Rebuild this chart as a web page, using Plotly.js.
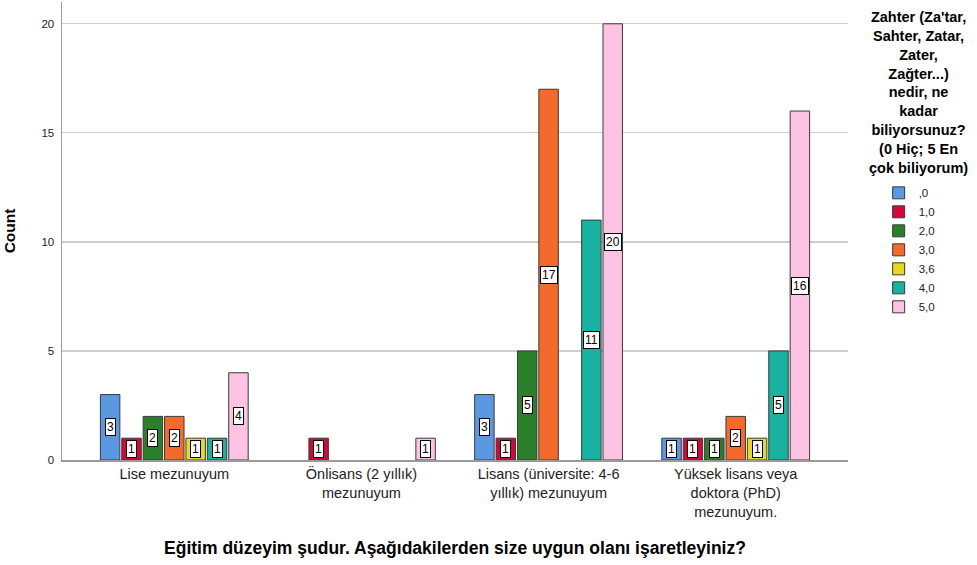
<!DOCTYPE html>
<html><head><meta charset="utf-8">
<script src="https://cdn.plot.ly/plotly-3.0.1.min.js"></script>
<style>body{margin:0;background:#fff}#c{width:977px;height:565px}</style>
</head><body><div id="c"></div>
<script>
const categories = ["Lise mezunuyum", "Önlisans (2 yıllık)<br>mezunuyum", "Lisans (üniversite: 4-6<br>yıllık) mezunuyum", "Yüksek lisans veya<br>doktora (PhD)<br>mezunuyum."];
const seriesNames = [",0", "1,0", "2,0", "3,0", "3,6", "4,0", "5,0"];
const v0  = [3, null, 3, 1];
const v1  = [1, 1, 1, 1];
const v2  = [2, null, 5, 1];
const v3  = [2, null, 17, 2];
const v36 = [1, null, null, 1];
const v4  = [1, null, 11, 5];
const v5  = [4, 1, 20, 16];
const seriesValues = [v0, v1, v2, v3, v36, v4, v5];
const colors = ["#5B98E2", "#D8053C", "#2A7F2A", "#F46A2A", "#E6D91E", "#17B3A0", "#FEC3E2"];

const n = seriesNames.length;
const slot = 0.8 / n;
const bw = 0.104;
const traces = [];
const annotations = [];
const xidx = categories.map((c, i) => i);
seriesNames.forEach((name, s) => {
  const off = -0.4 + s * slot + (slot - bw) / 2;
  traces.push({
    type: 'bar', name: name, x: xidx, y: seriesValues[s],
    width: bw, offset: off,
    marker: {color: colors[s], line: {color: '#3a3a3a', width: 1}},
    hoverinfo: 'skip'
  });
  seriesValues[s].forEach((v, i) => {
    if (v === null || v === 0) return;
    annotations.push({
      x: i + off + bw / 2, y: v / 2, xref: 'x', yref: 'y',
      text: String(v), showarrow: false,
      font: {family: 'Liberation Sans, Arial, sans-serif', size: 12, color: '#000'},
      bgcolor: '#fff', bordercolor: '#000', borderwidth: 1, borderpad: 1
    });
  });
});

annotations.push({
  xref: 'paper', yref: 'paper', x: 1.09, y: 0.988, xanchor: 'center', yanchor: 'top',
  showarrow: false, align: 'center',
  text: "<b>Zahter (Za'tar,<br>Sahter, Zatar,<br>Zater,<br>Zağter...)<br>nedir, ne<br>kadar<br>biliyorsunuz?<br>(0 Hiç; 5 En<br>çok biliyorum)</b>",
  font: {family: 'Liberation Sans, Arial, sans-serif', size: 14.5, color: '#000'}
});

const layout = {
  width: 977, height: 565,
  margin: {l: 62, r: 129, t: 2, b: 105},
  paper_bgcolor: '#fff', plot_bgcolor: '#fff',
  barmode: 'overlay',
  showlegend: true,
  legend: {
    x: 1.039, y: 0.615, xanchor: 'left', yanchor: 'top',
    font: {family: 'Liberation Sans, Arial, sans-serif', size: 11.5, color: '#222'},
    tracegroupgap: 0, itemwidth: 30, bgcolor: 'rgba(0,0,0,0)'
  },
  font: {family: 'Liberation Sans, Arial, sans-serif', color: '#000'},
  xaxis: {
    type: 'linear', range: [-0.6, 3.6],
    tickmode: 'array', tickvals: xidx, ticktext: categories,
    ticks: '', showgrid: false, zeroline: false,
    showline: true, linecolor: '#9a9a9a', linewidth: 1.5,
    tickfont: {size: 14.5, color: '#222'},
    title: {text: '<b>Eğitim düzeyim şudur. Aşağıdakilerden size uygun olanı işaretleyiniz?</b>',
            font: {size: 17.5, color: '#000'}, standoff: 23}
  },
  yaxis: {
    range: [0, 21], tickvals: [0, 5, 10, 15, 20], ticks: '',
    showgrid: true, gridcolor: '#cfcfcf', gridwidth: 1.2, zeroline: false,
    showline: true, linecolor: '#9a9a9a', linewidth: 1.5,
    tickfont: {size: 11.5, color: '#222'}, ticklabelstandoff: 4,
    title: {text: '<b>Count</b>', font: {size: 15.5, color: '#000'}, standoff: 22}
  },
  annotations: annotations
};
Plotly.newPlot('c', traces, layout, {displayModeBar: false, staticPlot: true});
</script>
</body></html>
